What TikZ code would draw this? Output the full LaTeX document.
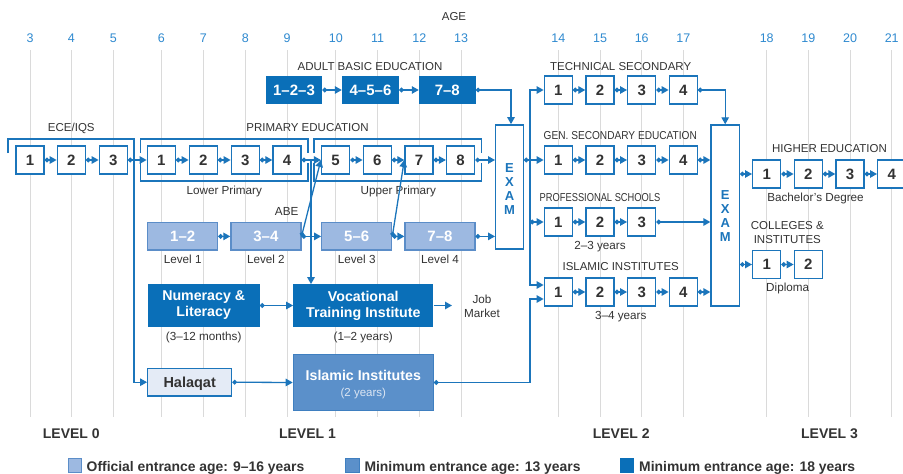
\documentclass[tikz,border=0pt]{standalone}
\usepackage{fontspec}
\setmainfont{Liberation Sans}
\usepackage{graphicx}
\usetikzlibrary{arrows.meta,calc}
\definecolor{lineblue}{HTML}{1B75BB}
\definecolor{agecol}{HTML}{2F8AD0}
\definecolor{darkfill}{HTML}{0A6FB8}
\definecolor{midfill}{HTML}{5B90CA}
\definecolor{midbord}{HTML}{3F7FC0}
\definecolor{lightfill}{HTML}{9DB9E1}
\definecolor{lightbord}{HTML}{5B8DC8}
\definecolor{halfill}{HTML}{E4EBF6}
\definecolor{txtdark}{HTML}{333333}
\definecolor{gridc}{HTML}{DADADA}
\definecolor{subwhite}{HTML}{DCE6F3}
\begin{document}
\begin{tikzpicture}[x=1pt,y=-1pt,
 every node/.style={inner sep=0pt,text=txtdark},
 lab/.style={font=\fontsize{11.5}{13}\selectfont,text height=8.2pt,text depth=0pt},
 sm/.style={font=\fontsize{11.7}{13}\selectfont,text height=8.4pt,text depth=0pt},
 agelab/.style={font=\fontsize{12.5}{14}\selectfont,text=agecol,text height=9pt,text depth=0pt},
 levlab/.style={font=\bfseries\fontsize{14}{16}\selectfont,text height=10pt,text depth=0pt},
 legt/.style={font=\bfseries\fontsize{13.9}{16}\selectfont,text height=10pt,text depth=0pt},
 wbox/.style={draw=lineblue,line width=1.4pt,fill=white,minimum width=28pt,minimum height=28pt,font=\bfseries\fontsize{15}{17}\selectfont,text height=10.8pt,text depth=0pt},
 dbox/.style={fill=darkfill,text=white,font=\bfseries\fontsize{14.2}{16}\selectfont},
 lbox/.style={draw=lightbord,line width=1.2pt,fill=lightfill,text=white,minimum width=70pt,minimum height=27.3pt,font=\bfseries\fontsize{15}{17}\selectfont,text height=10.8pt,text depth=0pt},
 exbox/.style={draw=lineblue,line width=1.4pt,fill=white},
 extxt/.style={font=\bfseries\fontsize{13}{13.9}\selectfont,text=lineblue,align=center},
 brk/.style={draw=lineblue,line width=1.3pt},
 conn/.style={draw=lineblue,line width=1.3pt,{Circle[length=4.6pt]}-{Triangle[length=7pt,width=7.5pt]}},
 connnd/.style={draw=lineblue,line width=1.3pt,-{Triangle[length=7pt,width=7.5pt]}},
]
\fill[white] (0,0) rectangle (903,474);
\useasboundingbox (0,0) rectangle (903,474);

% grid and ages
\foreach \a/\x in {3/30,4/71.3,5/113.3,6/161.3,7/203.3,8/245.3,9/287,10/335.8,11/377.5,12/419.3,13/461,14/558.3,15/600,16/641.7,17/683.3,18/766.7,19/808.3,20/850,21/891.7}{
  \draw[gridc,line width=1pt] (\x,50) -- (\x,417);
  \node[agelab] (age\a) at (\x,38) {\a};
}
\node[lab] (agetitle) at (454,16.5) {AGE};

% labels
\node[lab] (abeT) at (370,66) {ADULT BASIC EDUCATION};
\node[lab] (eceT) at (71.3,127.7) {ECE/IQS};
\node[lab] (priT) at (307.5,127.7) {PRIMARY EDUCATION};
\node[sm] (lowT) at (224.3,190) {Lower Primary};
\node[sm] (uppT) at (398.3,190) {Upper Primary};
\node[sm] (abeS) at (286.7,211.7) {ABE};
\node[sm] (lv1) at (182.7,259.5) {Level 1};
\node[sm] (lv2) at (265.9,259.5) {Level 2};
\node[sm] (lv3) at (356.7,259.5) {Level 3};
\node[sm] (lv4) at (440,259.5) {Level 4};
\node[sm] (nlS) at (203.7,336.5) {(3–12 months)};
\node[sm] (vtS) at (363.3,336.5) {(1–2 years)};
\node[sm] (job1) at (482,299) {Job};
\node[sm] (job2) at (482,313) {Market};
\node[lab] (tsT) at (620.7,66) {TECHNICAL SECONDARY};
\node[lab] (gsT) at (620.3,135) {\scalebox{0.88}[1]{GEN. SECONDARY EDUCATION}};
\node[lab] (psT) at (600,197.3) {\scalebox{0.81}[1]{PROFESSIONAL SCHOOLS}};
\node[sm] (psS) at (600,245.5) {2–3 years};
\node[lab] (isT) at (620.7,266.7) {ISLAMIC INSTITUTES};
\node[sm] (isS) at (620.7,315.5) {3–4 years};
\node[lab] (heT) at (829.5,148.3) {HIGHER EDUCATION};
\node[sm] (heS) at (815.5,197) {Bachelor’s Degree};
\node[lab] (coT1) at (787.3,225.7) {COLLEGES \&};
\node[lab] (coT2) at (787.3,239.3) {INSTITUTES};
\node[sm] (coS) at (787.7,287.5) {Diploma};

% level labels
\node[levlab] (L0) at (71.3,433) {LEVEL 0};
\node[levlab] (L1) at (307.5,433) {LEVEL 1};
\node[levlab] (L2) at (621.2,433) {LEVEL 2};
\node[levlab] (L3) at (829.5,433) {LEVEL 3};

% brackets
\coordinate (eceL) at (8,153);
\draw[brk] (140.7,153) |- (308,139) -- (308,153);
\draw[brk] (140.7,163) |- (308,181) -- (308,163);
\draw[brk] (314,153) |- (481.7,139) -- (481.7,153);
\draw[brk] (314,163) |- (481.7,181) -- (481.7,163);

% ECE + primary
\node[wbox] (e1) at (30,160) {1};
\node[wbox] (e2) at (71.3,160) {2};
\node[wbox] (e3) at (113.3,160) {3};
\node[wbox] (p1) at (161.3,160) {1};
\node[wbox] (p2) at (203.3,160) {2};
\node[wbox] (p3) at (245.3,160) {3};
\node[wbox] (p4) at (287,160) {4};
\node[wbox] (p5) at (335.6,160) {5};
\node[wbox] (p6) at (377.3,160) {6};
\node[wbox] (p7) at (419,160) {7};
\node[wbox] (p8) at (460.6,160) {8};

% adult basic education
\node[dbox,minimum width=56.6pt,minimum height=28pt,font=\bfseries\fontsize{15}{17}\selectfont] (a1) at (294,90) {1–2–3};
\node[dbox,minimum width=57pt,minimum height=28pt,font=\bfseries\fontsize{15}{17}\selectfont] (a2) at (370.5,90) {4–5–6};
\node[dbox,minimum width=56.7pt,minimum height=28pt,font=\bfseries\fontsize{15}{17}\selectfont] (a3) at (447.3,90) {7–8};

% ABE levels
\node[lbox] (l1) at (182.7,236.4) {1–2};
\node[lbox] (l2) at (265.9,236.4) {3–4};
\node[lbox] (l3) at (356.7,236.4) {5–6};
\node[lbox] (l4) at (440,236.4) {7–8};

% other level 1 boxes
\node[dbox,minimum width=112pt,minimum height=42.4pt,align=center] (nl) at (203.7,305.5) {Numeracy \&\\Literacy};
\node[dbox,minimum width=140pt,minimum height=42.4pt,align=center] (vti) at (363.3,305.5) {Vocational\\Training Institute};
\node[draw=lineblue,line width=1.3pt,fill=halfill,minimum width=84pt,minimum height=27.7pt,font=\bfseries\fontsize{14.5}{16}\selectfont,text height=10.4pt,text depth=0pt] (hal) at (189.7,382.2) {Halaqat};
\node[draw=midbord,line width=1.2pt,fill=midfill,minimum width=140pt,minimum height=56.4pt] (ii) at (363.3,382.5) {};
\node[text=white,font=\bfseries\fontsize{14.2}{16}\selectfont,text height=10.2pt,text depth=0pt] (iiT) at (363.3,375) {Islamic Institutes};
\node[text=subwhite,font=\fontsize{11.5}{13}\selectfont,text height=8.2pt,text depth=0pt] (iiS) at (363.3,392.7) {(2 years)};

% exams
\node[exbox,minimum width=27.6pt,minimum height=124.3pt] (ex1) at (509.5,187) {};
\node[extxt] (ex1t) at (509.5,189.2) {E\\X\\A\\M};
\node[exbox,minimum width=28.3pt,minimum height=181pt] (ex2) at (725.2,215.5) {};
\node[extxt] (ex2t) at (725.2,215.7) {E\\X\\A\\M};

% secondary
\foreach \i/\x in {1/558.3,2/600,3/641.7,4/683.3}{
  \node[wbox] (ts\i) at (\x,90) {\i};
  \node[wbox] (gs\i) at (\x,160) {\i};
  \node[wbox] (is\i) at (\x,292) {\i};
}
\foreach \i/\x in {1/558.3,2/600,3/641.7}{
  \node[wbox] (ps\i) at (\x,222) {\i};
}
% higher
\foreach \i/\x in {1/766.7,2/808.3,3/850,4/891.7}{
  \node[wbox] (he\i) at (\x,174) {\i};
}
\node[wbox] (co1) at (766.7,264.5) {1};
\node[wbox] (co2) at (808.3,264.5) {2};

% connectors in rows
\foreach \a/\b in {e1/e2,e2/e3,e3/p1,p1/p2,p2/p3,p3/p4,p4/p5,p5/p6,p6/p7,p7/p8,a1/a2,a2/a3,l1/l2,l2/l3,l3/l4,ts1/ts2,ts2/ts3,ts3/ts4,gs1/gs2,gs2/gs3,gs3/gs4,ps1/ps2,ps2/ps3,is1/is2,is2/is3,is3/is4,he1/he2,he2/he3,he3/he4,co1/co2,nl/vti,hal/ii}{
  \draw[conn] (\a.east) -- (\b.west);
}
\draw[conn] (l2.east) -- (p5.west);
\draw[conn] (l3.east) -- (p7.west);
\coordinate (j1) at (311,160);
\draw[connnd] (j1) -- (j1 |- vti.north);
\coordinate (jm) at (452,305.5);
\draw[connnd] (vti.east) -- (jm);
\draw[connnd] (eceL) |- (134,139) -- (134,382.2) -- (hal.west);

% into exam 1
\draw[conn] (p8.east) -- (p8.east -| ex1.west);
\draw[conn] (l4.east) -- (l4.east -| ex1.west);
\draw[conn] (a3.east) -| ($(ex1.north)+(1.5,0)$);

% out of exam 1
\draw[conn] (ex1.east |- gs1.west) -- (gs1.west);
\coordinate (br1) at (530,160);
\coordinate (br2) at (530,222);
\draw[connnd] (br1) |- (ts1.west);
\draw[connnd] (br1) |- ($(is1.west)+(0,-7)$);
\draw[conn] (br2) -- (ps1.west);
\draw[conn] (ii.east) -- (530,382.5) |- ($(is1.west)+(0,7)$);

% into exam 2
\draw[conn] (ts4.east) -| (ex2.north);
\draw[conn] (gs4.east) -- (gs4.east -| ex2.west);
\draw[conn] (ps3.east) -- (ps3.east -| ex2.west);
\draw[conn] (is4.east) -- (is4.east -| ex2.west);
% out of exam 2
\draw[conn] (ex2.east |- he1.west) -- (he1.west);
\draw[conn] (ex2.east |- co1.west) -- (co1.west);

% legend
\node[draw=lightbord,line width=1pt,fill=lightfill,minimum width=13.5pt,minimum height=14.5pt] (lg1) at (75,465.5) {};
\node[legt,anchor=west] (lg1t) at (86.5,466) {Official entrance age: 9–16 years};
\node[draw=midbord,line width=1pt,fill=midfill,minimum width=13.5pt,minimum height=14.5pt] (lg2) at (352.5,465.5) {};
\node[legt,anchor=west] (lg2t) at (364.3,466) {Minimum entrance age: 13 years};
\node[draw=darkfill,line width=1pt,fill=darkfill,minimum width=13.5pt,minimum height=14.5pt] (lg3) at (627,465.5) {};
\node[legt,anchor=west] (lg3t) at (639,466) {Minimum entrance age: 18 years};
\end{tikzpicture}
\end{document}
